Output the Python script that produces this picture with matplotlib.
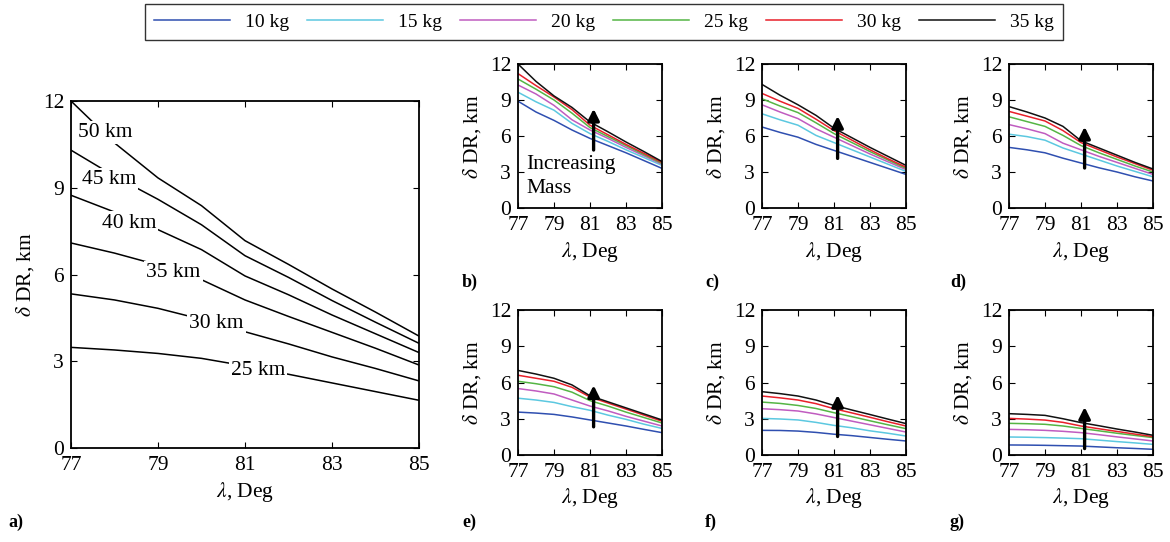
import numpy as np
import matplotlib
matplotlib.use('Agg')
from matplotlib import pyplot as plt

plt.rcParams['font.family'] = ['Liberation Serif', 'DejaVu Serif']
plt.rcParams['mathtext.fontset'] = 'stix'

lam = [77, 78, 79, 80, 81, 82, 83, 84, 85]

# panel a: contour lines of delta DR for each range
ranges = ['25 km', '30 km', '35 km', '40 km', '45 km', '50 km']
contours = [
    [3.48, 3.39, 3.27, 3.10, 2.84, 2.55, 2.25, 1.95, 1.65],
    [5.33, 5.12, 4.83, 4.45, 4.02, 3.60, 3.15, 2.75, 2.32],
    [7.09, 6.74, 6.33, 5.82, 5.12, 4.55, 4.00, 3.45, 2.87],
    [8.74, 8.16, 7.55, 6.86, 5.95, 5.30, 4.60, 3.95, 3.30],
    [10.3, 9.40, 8.60, 7.72, 6.65, 5.90, 5.10, 4.35, 3.62],
    [12.0, 10.55, 9.34, 8.38, 7.17, 6.35, 5.50, 4.70, 3.87],
]
label_pos = [(81.3, 2.67), (80.35, 4.29), (79.35, 6.07), (78.33, 7.78), (77.87, 9.28), (77.78, 10.9)]

masses = ['10 kg', '15 kg', '20 kg', '25 kg', '30 kg', '35 kg']
colors = ['#2f4fb0', '#5cc8e0', '#c05cc0', '#55b545', '#e8202a', '#111111']

# panels b..g: delta DR for each mass (rows: 10..35 kg)
panel_b = [
    [8.9, 8.0, 7.3, 6.5, 5.8, 5.2, 4.6, 3.95, 3.3],
    [9.65, 8.85, 8.15, 7.05, 6.2, 5.55, 4.85, 4.2, 3.55],
    [10.25, 9.5, 8.55, 7.35, 6.5, 5.8, 5.05, 4.35, 3.65],
    [10.75, 9.9, 9.0, 7.9, 6.7, 5.95, 5.2, 4.45, 3.72],
    [11.2, 10.2, 9.25, 8.2, 6.9, 6.1, 5.3, 4.55, 3.8],
    [12.0, 10.55, 9.34, 8.38, 7.17, 6.35, 5.5, 4.7, 3.87],
]
panel_c = [
    [6.75, 6.3, 5.9, 5.3, 4.8, 4.3, 3.8, 3.3, 2.8],
    [7.85, 7.35, 6.9, 6.05, 5.45, 4.85, 4.25, 3.65, 3.05],
    [8.6, 8.0, 7.45, 6.6, 5.9, 5.2, 4.5, 3.85, 3.2],
    [9.1, 8.5, 7.95, 7.1, 6.2, 5.45, 4.7, 4.0, 3.3],
    [9.55, 8.9, 8.3, 7.4, 6.45, 5.65, 4.85, 4.1, 3.4],
    [10.3, 9.4, 8.6, 7.72, 6.65, 5.85, 5.05, 4.3, 3.55],
]
panel_d = [
    [5.05, 4.85, 4.6, 4.15, 3.75, 3.35, 3.0, 2.6, 2.25],
    [6.15, 5.95, 5.65, 5.0, 4.5, 4.0, 3.5, 3.05, 2.6],
    [6.95, 6.6, 6.2, 5.4, 4.85, 4.3, 3.8, 3.3, 2.8],
    [7.6, 7.2, 6.8, 6.05, 5.2, 4.6, 4.05, 3.5, 3.0],
    [8.05, 7.65, 7.25, 6.45, 5.45, 4.85, 4.25, 3.7, 3.15],
    [8.45, 8.0, 7.5, 6.8, 5.6, 5.0, 4.4, 3.8, 3.25],
]
panel_e = [
    [3.55, 3.47, 3.36, 3.15, 2.9, 2.65, 2.4, 2.12, 1.85],
    [4.7, 4.55, 4.35, 4.0, 3.7, 3.3, 2.95, 2.55, 2.2],
    [5.5, 5.3, 5.05, 4.55, 4.05, 3.65, 3.2, 2.8, 2.4],
    [6.1, 5.9, 5.65, 5.2, 4.5, 4.05, 3.55, 3.1, 2.65],
    [6.6, 6.35, 6.1, 5.6, 4.8, 4.3, 3.8, 3.3, 2.8],
    [7.0, 6.7, 6.35, 5.8, 4.9, 4.4, 3.9, 3.4, 2.9],
]
panel_f = [
    [2.04, 2.03, 1.98, 1.87, 1.72, 1.6, 1.45, 1.3, 1.16],
    [3.03, 2.98, 2.9, 2.7, 2.45, 2.25, 2.0, 1.8, 1.57],
    [3.83, 3.75, 3.64, 3.4, 3.1, 2.8, 2.5, 2.2, 1.9],
    [4.38, 4.27, 4.1, 3.85, 3.5, 3.17, 2.83, 2.5, 2.18],
    [4.88, 4.73, 4.55, 4.25, 3.83, 3.48, 3.12, 2.75, 2.4],
    [5.24, 5.08, 4.88, 4.55, 4.1, 3.72, 3.35, 2.97, 2.6],
]
panel_g = [
    [0.83, 0.82, 0.8, 0.77, 0.74, 0.67, 0.6, 0.54, 0.47],
    [1.49, 1.47, 1.44, 1.4, 1.35, 1.23, 1.11, 1.0, 0.88],
    [2.12, 2.09, 2.04, 1.96, 1.85, 1.68, 1.5, 1.33, 1.16],
    [2.62, 2.59, 2.54, 2.4, 2.2, 2.0, 1.8, 1.62, 1.44],
    [3.03, 2.97, 2.89, 2.7, 2.4, 2.17, 1.95, 1.73, 1.52],
    [3.42, 3.36, 3.28, 3.0, 2.68, 2.42, 2.15, 1.9, 1.63],
]
small = [panel_b, panel_c, panel_d, panel_e, panel_f, panel_g]
small_names = ['b)', 'c)', 'd)', 'e)', 'f)', 'g)']
# arrow (x, y start, y end) for each small panel
arrows = [(81.2, 4.6, 8.5), (81.2, 3.9, 7.9), (81.2, 3.1, 7.0),
          (81.2, 2.1, 6.0), (81.2, 1.3, 5.2), (81.2, 0.3, 4.2)]

W, H = 1170, 542
fig = plt.figure(figsize=(W / 100, H / 100), dpi=100)


def px(l, t, r, b):
    return [l / W, 1 - b / H, (r - l) / W, (b - t) / H]


def style(ax, fs):
    ax.set_xlim(77, 85)
    ax.set_ylim(0, 12)
    ax.set_xticks([77, 79, 81, 83, 85])
    ax.set_yticks([0, 3, 6, 9, 12])
    ax.tick_params(direction='in', top=True, right=True, labelsize=fs,
                   length=4, width=0.8)
    ax.tick_params(axis='x', pad=6)
    ax.tick_params(axis='y', pad=5)
    for s in ax.spines.values():
        s.set_linewidth(1.3)
    ax.set_xlabel(r'$\lambda$, Deg', fontsize=fs, labelpad=3)
    ax.set_ylabel(r'$\delta$ DR, km', fontsize=fs, labelpad=5)


# panel a
ax = fig.add_axes(px(71, 101, 419, 448))
for vals, name, (tx, ty) in zip(contours, ranges, label_pos):
    ax.plot(lam, vals, color='k', lw=1.1)
    ax.text(tx, ty, name, fontsize=15.5, ha='center', va='center',
            bbox=dict(facecolor='white', edgecolor='none', pad=1.5))
style(ax, 15.5)
fig.text(8 / W, 1 - 522 / H, 'a)', fontsize=13, fontweight='bold', va='center')

# panels b..g
lefts = [518, 762, 1009]
tops = [(64, 208), (310, 455)]
lab_x = [462, 705, 950]
lab_y = [282, 522]
lines = []
for i, data in enumerate(small):
    row, col = divmod(i, 3)
    t, b = tops[row]
    ax = fig.add_axes(px(lefts[col], t, lefts[col] + 144, b))
    for vals, c, m in zip(data, colors, masses):
        ln, = ax.plot(lam, vals, color=c, lw=1.1, label=m)
        if i == 0:
            lines.append(ln)
    x, y0, y1 = arrows[i]
    ax.annotate('', xy=(x, y1), xytext=(x, y0),
                arrowprops=dict(arrowstyle='-|>', color='k', lw=2.4, mutation_scale=17))
    style(ax, 15.5)
    fig.text(lab_x[col] / W, 1 - lab_y[row] / H, small_names[i], fontsize=13,
             fontweight='bold', va='center')
    if i == 0:
        ax.text(77.45, 3.6, 'Increasing', fontsize=15.5, va='center')
        ax.text(77.45, 1.65, 'Mass', fontsize=15.5, va='center')

leg = fig.legend(lines, masses, loc='center', ncol=6,
                 bbox_to_anchor=(604 / W, 1 - 22 / H), fontsize=14,
                 handlelength=3.9, columnspacing=0.9, handletextpad=0.8,
                 fancybox=False, edgecolor='k', borderpad=0.45)
leg.get_frame().set_linewidth(1.0)

plt.savefig('out.png', dpi=100)
